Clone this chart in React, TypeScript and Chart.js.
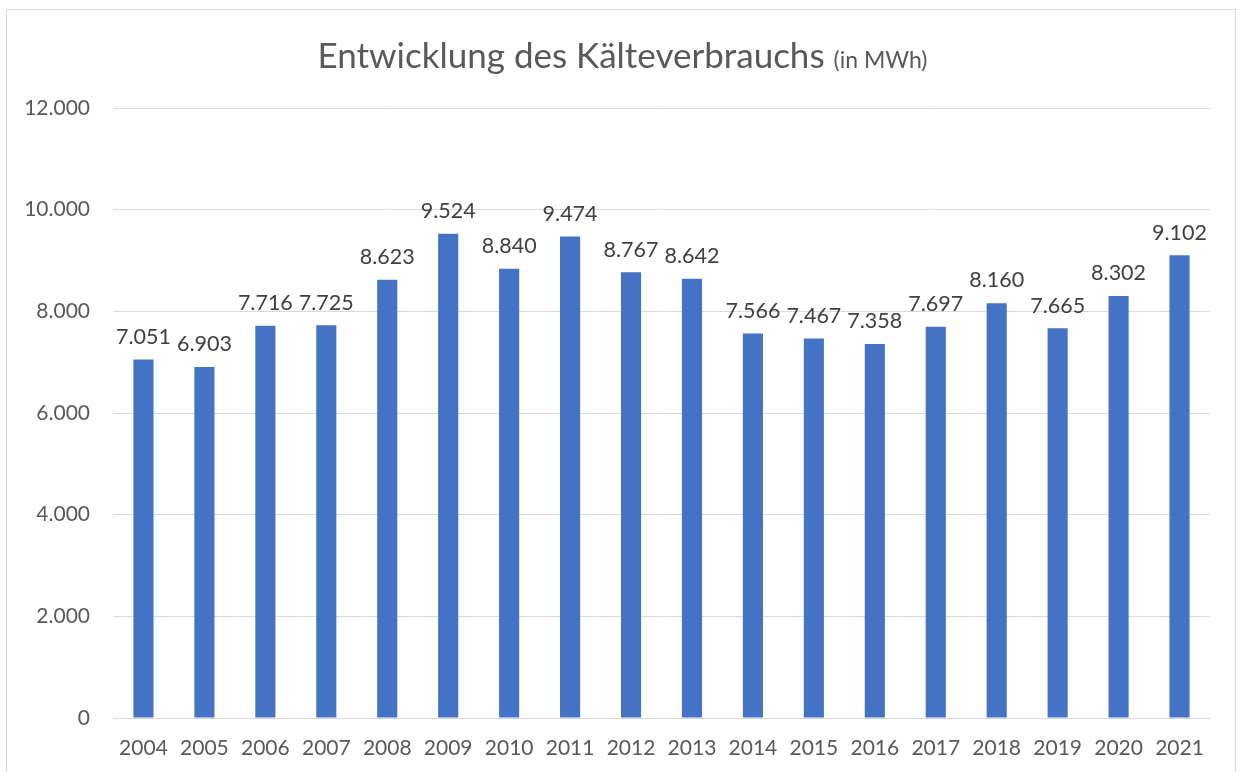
import React, { useEffect, useRef } from "react";
import { Chart, registerables } from "chart.js";

Chart.register(...registerables);

const years = ["2004","2005","2006","2007","2008","2009","2010","2011","2012","2013","2014","2015","2016","2017","2018","2019","2020","2021"];
const consumption = [7051,6903,7716,7725,8623,9524,8840,9474,8767,8642,7566,7467,7358,7697,8160,7665,8302,9102];
const yTicks = [0,2000,4000,6000,8000,10000,12000];
const titleMain = "Entwicklung des Kälteverbrauchs";
const titleSub = "(in MWh)";

const FONT = "Lato";
const fmt = (v: number) => v.toLocaleString("de-DE");

const titlePlugin = {
  id: "twoPartTitle",
  afterDraw(chart: any) {
    const ctx = chart.ctx;
    ctx.save();
    ctx.fillStyle = "#595959";
    ctx.textBaseline = "alphabetic";
    ctx.font = `35px ${FONT}`;
    const w1 = ctx.measureText(titleMain + " ").width;
    ctx.font = `23px ${FONT}`;
    const w2 = ctx.measureText(titleSub).width;
    const x0 = chart.width / 2 - (w1 + w2) / 2;
    ctx.textAlign = "left";
    ctx.font = `35px ${FONT}`;
    ctx.fillText(titleMain + " ", x0, 68);
    ctx.font = `23px ${FONT}`;
    ctx.fillText(titleSub, x0 + w1, 68);
    ctx.restore();
  },
};

const labelPlugin = {
  id: "barValues",
  afterDatasetsDraw(chart: any) {
    const ctx = chart.ctx;
    const meta = chart.getDatasetMeta(0);
    ctx.save();
    ctx.fillStyle = "#404040";
    ctx.font = `21.5px ${FONT}`;
    ctx.textAlign = "center";
    ctx.textBaseline = "bottom";
    meta.data.forEach((bar: any, i: number) => {
      ctx.fillText(fmt(consumption[i]), bar.x, bar.y - 12);
    });
    ctx.restore();
  },
};

export default function App() {
  const ref = useRef<HTMLCanvasElement>(null);
  useEffect(() => {
    if (!ref.current) return;
    const chart = new Chart(ref.current, {
      type: "bar",
      data: {
        labels: years,
        datasets: [
          {
            label: "Kälteverbrauch",
            data: consumption,
            backgroundColor: "#4472C4",
            barPercentage: 0.33,
            categoryPercentage: 1,
          },
        ],
      },
      options: {
        animation: false,
        responsive: false,
        layout: { padding: { top: 108, right: 35, left: 0, bottom: 0 } },
        plugins: { legend: { display: false }, title: { display: false }, tooltip: { enabled: false } },
        scales: {
          x: {
            grid: { display: false, drawTicks: false },
            border: { color: "#d9d9d9", width: 1 },
            ticks: { color: "#595959", font: { family: FONT, size: 21 }, padding: 18, maxRotation: 0 },
            afterFit: (s: any) => { s.height = 54; },
          },
          y: {
            min: 0,
            max: 12000,
            afterBuildTicks: (s: any) => { s.ticks = yTicks.map((v) => ({ value: v })); },
            grid: { color: "#d9d9d9", drawTicks: false },
            border: { display: false },
            ticks: { color: "#595959", font: { family: FONT, size: 21 }, padding: 23, callback: (v: any) => fmt(Number(v)) },
            afterFit: (s: any) => { s.width = 113; },
          },
        },
      },
      plugins: [titlePlugin, labelPlugin],
    });
    return () => chart.destroy();
  }, []);
  return (
    <div style={{ position: "fixed", left: 0, top: 0, width: 1245, height: 772, background: "#fff", overflow: "hidden" }}>
      <div style={{ position: "absolute", left: 6, top: 9, width: 1230, height: 800, border: "1px solid #d9d9d9", boxSizing: "border-box" }} />
      <canvas ref={ref} width={1245} height={772} style={{ position: "absolute", left: 0, top: 0 }} />
    </div>
  );
}
